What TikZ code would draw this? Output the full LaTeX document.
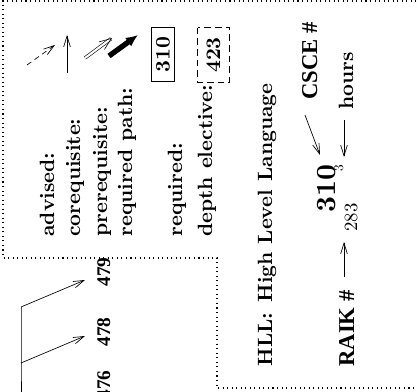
\documentclass[tikz,border=0pt]{standalone}
\usepackage{fontspec}
\usetikzlibrary{arrows.meta}
\newfontfamily\chartfont{Liberation Serif}
\tikzset{
  lbl/.style={rotate=90, scale=1.55, anchor=base west, inner sep=0pt, font=\bfseries},
  serifbold/.style={rotate=90, scale=1.7, anchor=base west, inner sep=0pt, font=\chartfont\bfseries},
  chartnum/.style={rotate=90, scale=1.45, anchor=base west, inner sep=0pt, font=\chartfont\bfseries},
  frame/.style={line width=0.9pt, dash pattern=on 0.8pt off 2.6pt},
  barb/.style={-{Straight Barb[length=8pt,width=5pt]}, line width=0.5pt},
  coursebox/.style={rotate=90, draw, line width=0.5pt, inner sep=0pt, minimum width=41pt, minimum height=17pt},
  boxnum/.style={rotate=90, scale=1.55, inner sep=0pt, font=\bfseries},
}
\begin{document}
\begin{tikzpicture}[x=0.75pt, y=-0.75pt]
\useasboundingbox (0,0) rectangle (417,392);
\clip (0,0) rectangle (417,392);

% dotted outline of the legend panel
\coordinate (f1) at (430,1);
\coordinate (f2) at (3,1);
\coordinate (f3) at (3,258);
\coordinate (f4) at (217,258);
\coordinate (f5) at (217,388);
\coordinate (f6) at (430,388);
\draw[frame] (f1) -- (f2) -- (f3) -- (f4) -- (f5) -- (f6);

% connector styles
\coordinate (a1) at (27,65);   \coordinate (a2) at (55,45);
\coordinate (c1) at (67,73);   \coordinate (c2) at (67,35);
\coordinate (p1) at (85,58);   \coordinate (p2) at (112,38);
\coordinate (r1) at (109,56);  \coordinate (r2) at (138,35);
\draw[barb, dashed, dash pattern=on 4pt off 3pt] (a1) -- (a2);
\draw[barb] (c1) -- (c2);
\draw[-{Straight Barb[length=9pt,width=7pt]}, double, double distance=1.6pt, line width=0.45pt] (p1) -- (p2);
\draw[-{Latex[length=9pt,width=8pt]}, line width=4pt] (r1) -- (r2);

\node[lbl] (advised) at (54,237) {advised:};
\node[lbl] (coreq)   at (80,237) {corequisite:};
\node[lbl] (prereq)  at (107,237) {prerequisite:};
\node[lbl] (reqpath) at (132,237) {required path:};
\node[lbl] (req)     at (182,237) {required:};
\node[lbl] (depth)   at (212,237) {depth elective:};

% sample course boxes
\node[coursebox] (box310) at (163,54.5) {};
\node[boxnum] at (box310.center) {310};
\node[coursebox, dash pattern=on 5pt off 3pt, minimum height=24pt] (box423) at (213.5,55) {};
\node[boxnum] at (box423.center) {423};

\node[lbl] (hll) at (272,367) {HLL:\hspace{0.5em}High Level Language};

% annotated course label
\node[rotate=90, scale=2.08, anchor=base west, inner sep=0pt, font=\bfseries] (num) at (335,213) {310};
\node[rotate=90, scale=1.0, anchor=base west, inner sep=0pt] (hrs) at (343,172) {3};
\node[rotate=90, scale=1.4, anchor=base west, inner sep=0pt] (raik) at (357,232) {283};

\node[serifbold] (csce) at (317,100) {CSCE \#};
\node[lbl] (hourslbl) at (353,110) {hours};
\node[serifbold] (raiklbl) at (354,367) {RAIK \#};

\coordinate (cs1) at (305,115); \coordinate (cs2) at (320,155);
\coordinate (h1) at (344,120);  \coordinate (h2) at (344,157);
\coordinate (rk1) at (344,277); \coordinate (rk2) at (344,242);
\draw[barb] (cs1) -- (cs2);
\draw[barb] (h1) -- (h2);
\draw[barb] (rk1) -- (rk2);

% fragment of the course chart
\node[chartnum] (n479) at (110,287) {479};
\node[chartnum] (n478) at (110,347) {478};
\node[chartnum] (n476) at (110,400) {476};
\coordinate (t0) at (21,307);
\coordinate (t1) at (21,363);
\coordinate (t2) at (21,400);
\coordinate (e479) at (85,280);
\coordinate (e478) at (85,336);
\draw[line width=0.5pt] (t0) -- (t1) -- (t2);
\draw[barb] (t0) -- (e479);
\draw[barb] (t1) -- (e478);
\end{tikzpicture}
\end{document}
